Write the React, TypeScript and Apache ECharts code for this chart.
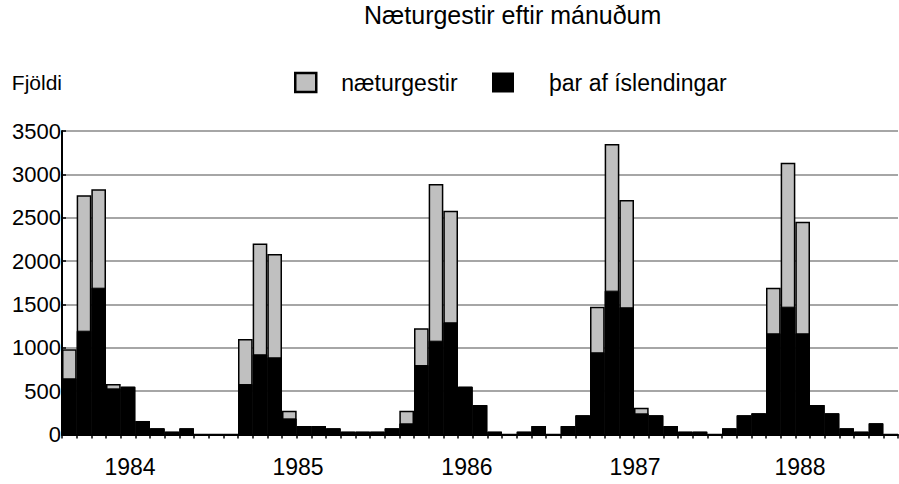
import React, { useEffect, useRef } from 'react';
import * as echarts from 'echarts';

const years = ['1984', '1985', '1986', '1987', '1988'];
// næturgestir (total overnight guests) per month
const guests1984 = [982, 2758, 2827, 582, 552, 156, 71, 33, 71, 0, 0, 0];
const guests1985 = [1101, 2204, 2082, 275, 98, 98, 71, 33, 33, 33, 71, 275];
const guests1986 = [1224, 2889, 2581, 552, 340, 33, 0, 33, 98, 0, 98, 221];
const guests1987 = [1474, 3350, 2704, 309, 221, 98, 33, 33, 0, 71, 221, 244];
const guests1988 = [1693, 3135, 2454, 340, 244, 71, 33, 129, 0];
// þar af íslendingar per month
const ice1984 = [648, 1197, 1693, 532, 552, 156, 71, 33, 71, 0, 0, 0];
const ice1985 = [582, 925, 890, 186, 98, 98, 71, 33, 33, 33, 71, 129];
const ice1986 = [801, 1082, 1294, 552, 340, 33, 0, 33, 98, 0, 98, 221];
const ice1987 = [948, 1659, 1467, 244, 221, 98, 33, 33, 0, 71, 221, 244];
const ice1988 = [1167, 1474, 1167, 340, 244, 71, 33, 129, 0];
// year tick label positions, in month units along the category axis
const yearLabelPos = [4.64, 16.09, 27.61, 39.07, 50.32];
const yTicks = [0, 500, 1000, 1500, 2000, 2500, 3000, 3500];

const guestsByYear = [guests1984, guests1985, guests1986, guests1987, guests1988];
const iceByYear = [ice1984, ice1985, ice1986, ice1987, ice1988];

const FONT = '"Liberation Sans", Arial, Helvetica, sans-serif';

export default function App() {
  const ref = useRef<HTMLDivElement>(null);
  useEffect(() => {
    if (!ref.current) return;
    const chart = echarts.init(ref.current, undefined, { renderer: 'svg' });
    const categories: string[] = [];
    guestsByYear.forEach((arr, yi) => arr.forEach((_, mi) => categories.push(`${years[yi]}-${mi + 1}`)));
    const guests = ([] as number[]).concat(...guestsByYear);
    const ice = ([] as number[]).concat(...iceByYear);
    chart.setOption({
      animation: false,
      textStyle: { fontFamily: FONT },
      title: {
        text: 'Næturgestir eftir mánuðum',
        left: 364,
        top: 2,
        padding: 0,
        textStyle: { fontSize: 25, fontWeight: 'normal', color: '#000', fontFamily: FONT },
      },
      legend: [
        {
          data: [{ name: 'næturgestir', icon: 'rect', itemStyle: { borderWidth: 2.5, borderColor: '#000', color: '#c0c0c0' } }],
          left: 294,
          top: 71,
          padding: 0,
          itemWidth: 21,
          itemHeight: 19,
          selectedMode: false,
          textStyle: { fontSize: 23, color: '#000', fontFamily: FONT, padding: [0, 0, 0, 20] },
        },
        {
          data: [{ name: 'þar af íslendingar', icon: 'rect', itemStyle: { borderWidth: 0, color: '#000' } }],
          left: 492,
          top: 71,
          padding: 0,
          itemWidth: 22,
          itemHeight: 20,
          selectedMode: false,
          textStyle: { fontSize: 23, color: '#000', fontFamily: FONT, padding: [0, 0, 0, 30] },
        },
      ],
      grid: { left: 62, top: 131, width: 836, height: 303.5, containLabel: false },
      xAxis: [
        {
          type: 'category',
          data: categories,
          boundaryGap: true,
          axisLine: { lineStyle: { color: '#000', width: 2 } },
          axisTick: { show: true, interval: 0, length: 4, lineStyle: { color: '#000', width: 1.5 } },
          axisLabel: { show: false },
          splitLine: { show: false },
        },
        {
          type: 'value',
          min: 0,
          max: categories.length,
          position: 'bottom',
          axisLine: { show: false },
          axisTick: { show: false },
          splitLine: { show: false },
          axisLabel: {
            customValues: yearLabelPos,
            formatter: (v: number) => {
              let best = 0;
              yearLabelPos.forEach((p, i) => {
                if (Math.abs(p - v) < Math.abs(yearLabelPos[best] - v)) best = i;
              });
              return years[best];
            },
            fontSize: 23,
            color: '#000',
            margin: 21,
            fontFamily: FONT,
          },
        },
      ],
      yAxis: {
        type: 'value',
        min: yTicks[0],
        max: yTicks[yTicks.length - 1],
        interval: yTicks[1] - yTicks[0],
        name: 'Fjöldi',
        nameLocation: 'end',
        nameGap: 49,
        nameTextStyle: { fontSize: 21, color: '#000', align: 'right', verticalAlign: 'middle', fontFamily: FONT },
        axisLine: { show: true, lineStyle: { color: '#000', width: 2 } },
        axisTick: { show: true, inside: true, length: 4, lineStyle: { color: '#000', width: 1.5 } },
        axisLabel: { fontSize: 22, color: '#000', margin: 1, fontFamily: FONT, formatter: (v: number) => String(v) },
        splitLine: { show: true, lineStyle: { color: '#888', width: 1.5 } },
      },
      series: [
        {
          name: 'næturgestir',
          type: 'bar',
          data: guests,
          barGap: '-100%',
          barCategoryGap: '0%',
          itemStyle: { color: '#c0c0c0', borderColor: '#000', borderWidth: 1.5 },
        },
        {
          name: 'þar af íslendingar',
          type: 'bar',
          data: ice,
          barGap: '-100%',
          barCategoryGap: '0%',
          itemStyle: { color: '#000', borderColor: '#000', borderWidth: 1 },
        },
      ],
    });
    return () => chart.dispose();
  }, []);
  return <div ref={ref} style={{ position: 'absolute', left: 0, top: 0, width: 899, height: 484 }} />;
}
